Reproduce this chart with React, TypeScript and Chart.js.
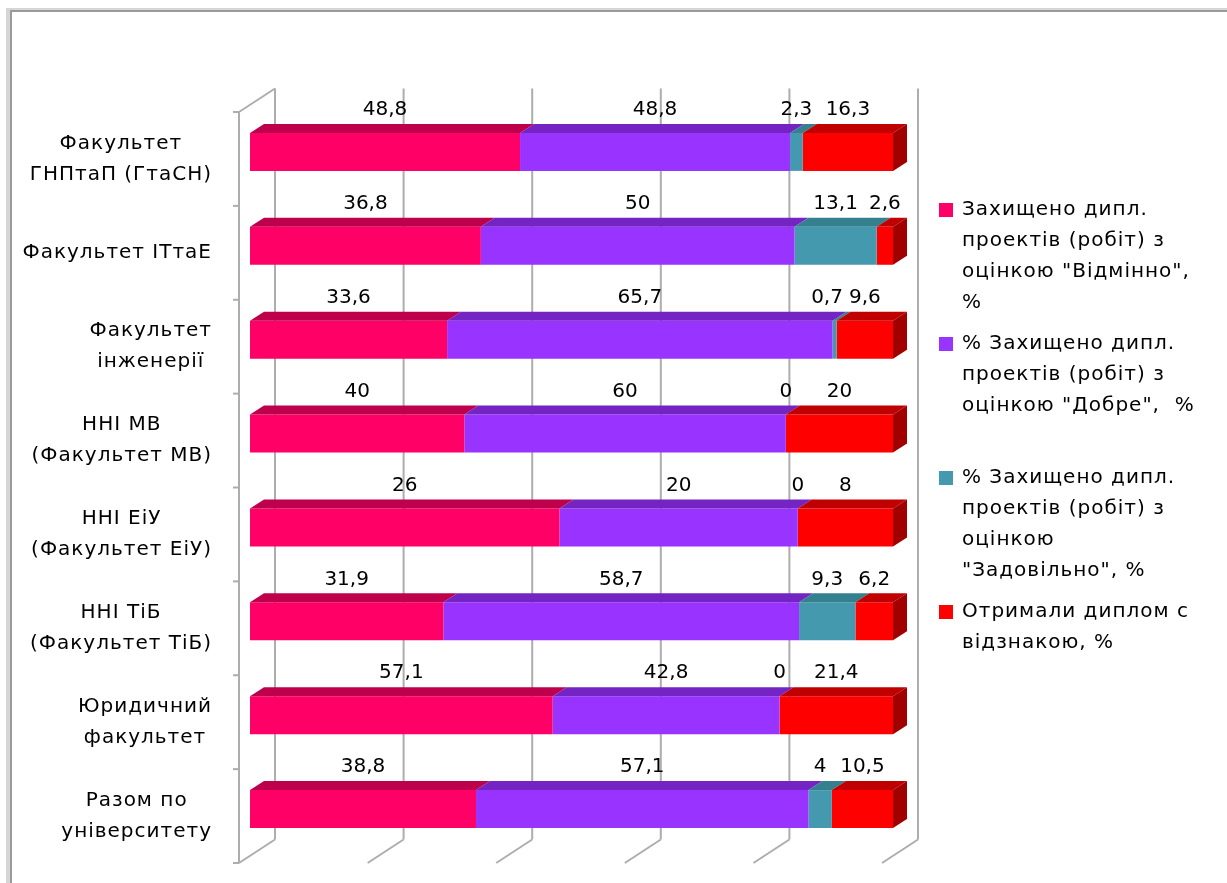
import React, { useEffect, useRef } from "react";
import Chart from "chart.js/auto";

const categories: string[][] = [
  ["Факультет", "ГНПтаП (ГтаСН)"],
  ["Факультет ІТтаЕ"],
  ["Факультет", "інженерії"],
  ["ННІ МВ", "(Факультет МВ)"],
  ["ННІ ЕіУ", "(Факультет ЕіУ)"],
  ["ННІ ТіБ", "(Факультет ТіБ)"],
  ["Юридичний", "факультет"],
  ["Разом по", "університету"],
];

const excellent = [48.8, 36.8, 33.6, 40, 26, 31.9, 57.1, 38.8];
const good = [48.8, 50, 65.7, 60, 20, 58.7, 42.8, 57.1];
const satisfactory = [2.3, 13.1, 0.7, 0, 0, 9.3, 0, 4];
const honours = [16.3, 2.6, 9.6, 20, 8, 6.2, 21.4, 10.5];

const seriesLabels: string[][] = [
  ["Захищено дипл.", "проектів (робіт) з", "оцінкою \"Відмінно\",", "%"],
  ["% Захищено дипл.", "проектів (робіт) з", "оцінкою \"Добре\",  %"],
  ["% Захищено дипл.", "проектів (робіт) з", "оцінкою", "\"Задовільно\", %"],
  ["Отримали диплом с", "відзнакою, %"],
];

const xTicks = [0, 20, 40, 60, 80, 100];

const frontColors = ["#FF0066", "#9933FF", "#4499AF", "#FF0000"];
const topColors = ["#BE004C", "#7424C2", "#34808F", "#C00000"];
const sideColor = "#A00000";

const FONT = '20px "DejaVu Sans"';

const rawSeries = [excellent, good, satisfactory, honours];
const rowTotals = categories.map((_, i) => rawSeries.reduce((s, arr) => s + arr[i], 0));
const pctSeries = rawSeries.map((arr) => arr.map((v, i) => (v / rowTotals[i]) * 100));

const fmt = (v: number) => String(v).replace(".", ",");

// depth offsets relative to bar front plane
const FRONT = { dx: -11, dy: 7 };
const BACK = { dx: 25, dy: -16.5 };
const BAR = { dx: 14, dy: 9 };

const threeDPlugin = {
  id: "threeD",
  beforeDatasetsDraw(chart: any) {
    const ctx: CanvasRenderingContext2D = chart.ctx;
    const ca = chart.chartArea;
    const xs = chart.scales.x;
    ctx.save();
    // outer frame
    ctx.fillStyle = "#D6D6D6";
    ctx.fillRect(6, 8, 4, chart.height);
    ctx.fillRect(6, 8, chart.width, 2);
    ctx.fillStyle = "#9A9A9A";
    ctx.fillRect(10, 10, 2, chart.height);
    ctx.fillRect(10, 10, chart.width, 2);

    ctx.strokeStyle = "#ADADAD";
    ctx.lineWidth = 2;
    xTicks.forEach((v) => {
      const x = xs.getPixelForValue(v);
      ctx.beginPath();
      ctx.moveTo(x + BACK.dx, ca.top + BACK.dy);
      ctx.lineTo(x + BACK.dx, ca.bottom + BACK.dy);
      ctx.stroke();
      ctx.beginPath();
      ctx.moveTo(x + FRONT.dx, ca.bottom + FRONT.dy);
      ctx.lineTo(x + BACK.dx, ca.bottom + BACK.dy);
      ctx.stroke();
    });
    const fx = ca.left + FRONT.dx;
    ctx.beginPath();
    ctx.moveTo(fx, ca.top + FRONT.dy);
    ctx.lineTo(fx, ca.bottom + FRONT.dy);
    ctx.stroke();
    ctx.beginPath();
    ctx.moveTo(fx, ca.top + FRONT.dy);
    ctx.lineTo(ca.left + BACK.dx, ca.top + BACK.dy);
    ctx.stroke();
    const n = categories.length;
    const band = (ca.bottom - ca.top) / n;
    for (let k = 0; k <= n; k++) {
      const y = ca.top + FRONT.dy + band * k;
      ctx.beginPath();
      ctx.moveTo(fx - 6, y);
      ctx.lineTo(fx, y);
      ctx.stroke();
    }

    // category labels
    ctx.font = FONT;
    (ctx as any).letterSpacing = "1px";
    ctx.fillStyle = "#000";
    ctx.textAlign = "center";
    ctx.textBaseline = "middle";
    const rightEdge = 212;
    const lh = 31;
    categories.forEach((lines, i) => {
      const cy = ca.top + FRONT.dy + band * (i + 0.5);
      const maxW = Math.max(...lines.map((l) => ctx.measureText(l).width));
      const cx = rightEdge - maxW / 2;
      lines.forEach((l, j) => {
        const y = cy + (j - (lines.length - 1) / 2) * lh;
        ctx.fillText(l, cx, y);
      });
    });
    ctx.restore();
  },
  afterDatasetsDraw(chart: any) {
    const ctx: CanvasRenderingContext2D = chart.ctx;
    ctx.save();
    const nData = categories.length;
    for (let j = 0; j < nData; j++) {
      let lastEl: any = null;
      for (let d = 0; d < rawSeries.length; d++) {
        const el = chart.getDatasetMeta(d).data[j];
        const p = el.getProps(["x", "y", "base", "height"], true);
        const x0 = Math.min(p.base, p.x);
        const x1 = Math.max(p.base, p.x);
        const top = p.y - p.height / 2;
        if (x1 - x0 > 0.01) {
          ctx.fillStyle = topColors[d];
          ctx.beginPath();
          ctx.moveTo(x0, top);
          ctx.lineTo(x1, top);
          ctx.lineTo(x1 + BAR.dx, top - BAR.dy);
          ctx.lineTo(x0 + BAR.dx, top - BAR.dy);
          ctx.closePath();
          ctx.fill();
          lastEl = p;
        }
      }
      if (lastEl) {
        const xe = Math.max(lastEl.base, lastEl.x);
        const top = lastEl.y - lastEl.height / 2;
        const bot = lastEl.y + lastEl.height / 2;
        ctx.fillStyle = sideColor;
        ctx.beginPath();
        ctx.moveTo(xe, top);
        ctx.lineTo(xe + BAR.dx, top - BAR.dy);
        ctx.lineTo(xe + BAR.dx, bot - BAR.dy);
        ctx.lineTo(xe, bot);
        ctx.closePath();
        ctx.fill();
      }
    }
    // data labels with simple overlap avoidance (shift earlier label left)
    ctx.font = FONT;
    ctx.fillStyle = "#000";
    ctx.textAlign = "center";
    ctx.textBaseline = "middle";
    for (let j = 0; j < nData; j++) {
      const items = rawSeries.map((arr, d) => {
        const p = chart.getDatasetMeta(d).data[j].getProps(["x", "y", "base", "height"], true);
        const text = fmt(arr[j]);
        return {
          text,
          cx: (p.base + p.x) / 2,
          y: p.y - p.height / 2 - 23,
          w: ctx.measureText(text).width,
        };
      });
      for (let d = items.length - 2; d >= 0; d--) {
        const a = items[d];
        const b = items[d + 1];
        const gap = 6;
        const overlap = a.cx + a.w / 2 + gap - (b.cx - b.w / 2);
        if (overlap > 0) a.cx -= overlap;
      }
      items.forEach((it) => ctx.fillText(it.text, it.cx, it.y));
    }
    // legend
    (ctx as any).letterSpacing = "1px";
    ctx.textAlign = "left";
    const lx = 939;
    const startY = 210;
    const step = 134;
    const lh = 31;
    seriesLabels.forEach((lines, d) => {
      const y0 = startY + step * d;
      ctx.fillStyle = frontColors[d];
      ctx.fillRect(lx, y0 - 7, 14, 14);
      ctx.fillStyle = "#000";
      lines.forEach((l, k) => ctx.fillText(l, 962, y0 + k * lh));
    });
    ctx.restore();
  },
};

export default function App() {
  const ref = useRef<HTMLCanvasElement | null>(null);
  useEffect(() => {
    if (!ref.current) return;
    const chart = new Chart(ref.current, {
      type: "bar",
      data: {
        labels: categories.map((c) => c.join(" ")),
        datasets: pctSeries.map((data, d) => ({
          label: seriesLabels[d].join(" "),
          data,
          backgroundColor: frontColors[d],
          borderWidth: 0,
          barPercentage: 0.404,
          categoryPercentage: 1,
        })),
      },
      options: {
        indexAxis: "y",
        animation: false,
        responsive: false,
        devicePixelRatio: 1,
        layout: { padding: { left: 250, right: 334, top: 105, bottom: 27 } },
        scales: {
          x: { stacked: true, min: 0, max: 100, display: false },
          y: { stacked: true, display: false },
        },
        plugins: { legend: { display: false }, tooltip: { enabled: false } },
      },
      plugins: [threeDPlugin],
    } as any);
    return () => chart.destroy();
  }, []);
  return (
    <div style={{ position: "fixed", left: 0, top: 0, width: 1227, height: 883, background: "#fff" }}>
      <canvas ref={ref} width={1227} height={883} />
    </div>
  );
}
